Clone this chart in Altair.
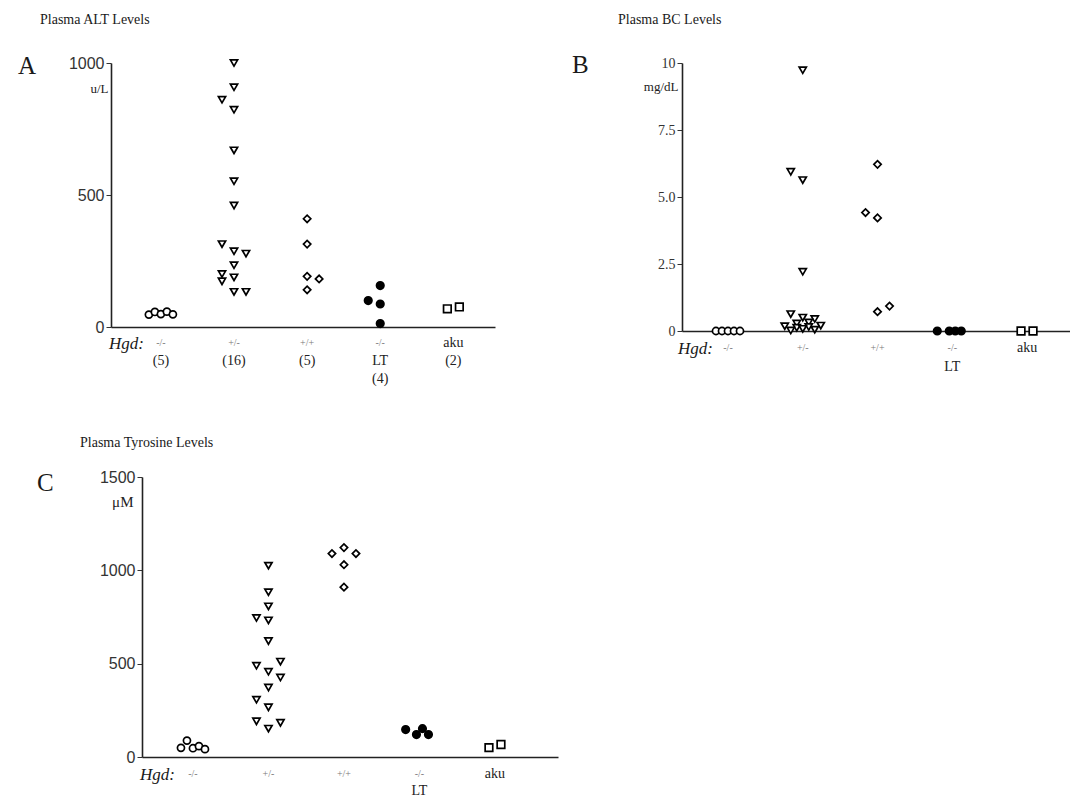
import altair as alt
import pandas as pd

CATS = ["KO", "HET", "WT", "LT", "AKU"]
SHAPES = ["circle", "triangle-down", "diamond", "circle", "square"]
FILLS = ["white", "white", "white", "black", "white"]
SIZES = [50, 58, 42, 55, 44]

SERIF = "Liberation Serif"
SANS = "Liberation Sans"

# ---------------- Panel A: Plasma ALT (u/L) ----------------
alt_ko_vals = [47, 57, 49, 58, 48]
alt_ko_cols = [-2, -1, 0, 1, 2]
alt_het_vals = [1000, 908, 861, 823, 669, 552, 460, 314, 287, 278, 234, 201, 173, 188, 133, 133]
alt_het_cols = [0, 0, -2, 0, 0, 0, 0, -2, 0, 2, 0, -2, -2, 0, 0, 2]
alt_wt_vals = [410, 314, 192, 182, 141]
alt_wt_cols = [0, 0, 0, 2, 0]
alt_lt_vals = [157, 100, 87, 13]
alt_lt_cols = [0, -2, 0, 0]
alt_aku_vals = [69, 76]
alt_aku_cols = [-1, 1]

# ---------------- Panel B: Plasma BC (mg/dL) ----------------
bc_ko_vals = [0, 0, 0, 0, 0]
bc_ko_cols = [-2, -1, 0, 1, 2]
bc_het_vals = [9.73, 5.94, 5.63, 2.21, 0.63, 0.50, 0.45, 0.32, 0.28, 0.20, 0.18, 0.15, 0.12, 0.08, 0.05, 0.02]
bc_het_cols = [0, -2, 0, 0, -2, 0, 2, 1, -1, 3, -3, 1, -1, 0, 2, -2]
bc_wt_vals = [6.22, 4.42, 4.22, 0.72, 0.93]
bc_wt_cols = [0, -2, 0, 0, 2]
bc_lt_vals = [0, 0, 0, 0]
bc_lt_cols = [-2.5, -0.5, 0.5, 1.5]
bc_aku_vals = [0, 0]
bc_aku_cols = [-1, 1]

# ---------------- Panel C: Plasma Tyrosine (uM) ----------------
tyr_ko_vals = [49, 88, 47, 58, 42]
tyr_ko_cols = [-2, -1, 0, 1, 2]
tyr_het_vals = [1025, 883, 807, 745, 732, 621, 511, 489, 457, 426, 372, 307, 266, 191, 183, 152]
tyr_het_cols = [0, 0, 0, -2, 0, 0, 2, -2, 0, 2, 0, -2, 0, -2, 2, 0]
tyr_wt_vals = [1090, 1122, 1090, 1030, 910]
tyr_wt_cols = [-2, 0, 2, 0, 0]
tyr_lt_vals = [147, 120, 152, 120]
tyr_lt_cols = [-2.3, -0.5, 0.5, 1.5]
tyr_aku_vals = [50, 67]
tyr_aku_cols = [-1, 1]

# ---------------- axis category labels ----------------
geno_cats = ["KO", "HET", "WT", "LT"]
geno_texts = ["-/-", "+/-", "+/+", "-/-"]
aku_cats = ["AKU"]
aku_texts = ["aku"]
a_line2_cats = ["KO", "HET", "WT", "LT", "AKU"]
a_line2_texts = ["(5)", "(16)", "(5)", "LT", "(2)"]
a_line3_cats = ["LT"]
a_line3_texts = ["(4)"]
bc_line2_cats = ["LT"]
bc_line2_texts = ["LT"]


def build_df(groups):
    rows = []
    for cat, vals, cols in groups:
        for v, c in zip(vals, cols):
            rows.append({"cat": cat, "val": v, "col": c})
    return pd.DataFrame(rows)


def text_layer(cats, texts, yv, size, color, font=SERIF, style="normal"):
    df = pd.DataFrame({"cat": cats, "t": texts})
    return alt.Chart(df).mark_text(
        font=font, fontSize=size, color=color, baseline="middle", fontStyle=style
    ).encode(x=alt.X("cat:N"), y=alt.value(yv), text="t:N")


def note(text, xv, yv, size, align="left", baseline="alphabetic", style="normal", color="#1a1a1a"):
    return alt.Chart(pd.DataFrame({"t": [text]})).mark_text(
        font=SERIF, fontSize=size, align=align, baseline=baseline, fontStyle=style, color=color
    ).encode(x=alt.value(xv), y=alt.value(yv), text="t:N")


def points(df, ymax, xscale, yaxis):
    return alt.Chart(df).mark_point(
        stroke="black", strokeWidth=1.7, fillOpacity=1, opacity=1
    ).encode(
        x=alt.X("cat:N", scale=xscale,
                axis=alt.Axis(labels=False, ticks=False, title=None, domain=True,
                              domainColor="#222", domainWidth=1.6, grid=False)),
        xOffset=alt.XOffset("col:Q", scale=alt.Scale(domain=[-4, 4], range=[-24, 24])),
        y=alt.Y("val:Q", scale=alt.Scale(domain=[0, ymax], nice=False, zero=True), axis=yaxis),
        shape=alt.Shape("cat:N", scale=alt.Scale(domain=CATS, range=SHAPES), legend=None),
        fill=alt.Fill("cat:N", scale=alt.Scale(domain=CATS, range=FILLS), legend=None),
        size=alt.Size("cat:N", scale=alt.Scale(domain=CATS, range=SIZES), legend=None),
    )


# ---------- Panel A ----------
WA, HA = 384, 264
dfA = build_df([("KO", alt_ko_vals, alt_ko_cols), ("HET", alt_het_vals, alt_het_cols),
                ("WT", alt_wt_vals, alt_wt_cols), ("LT", alt_lt_vals, alt_lt_cols),
                ("AKU", alt_aku_vals, alt_aku_cols)])
yaxisA = alt.Axis(values=[0, 500, 1000], format="d", title="u/L", titleAngle=0, titleX=-3, titleY=25,
                  titleAlign="right", titleBaseline="middle", titleFont=SERIF, titleFontSize=13,
                  titleFontWeight="normal", titleColor="#222",
                  labelFont=SANS, labelFontSize=16, labelColor="#333", tickSize=5,
                  tickColor="#333", domainColor="#222", domainWidth=1.6, grid=False, labelPadding=2)
xsA = alt.Scale(type="point", domain=CATS, padding=0.626, align=0.545)
panelA = alt.layer(
    points(dfA, 1000, xsA, yaxisA),
    text_layer(geno_cats, geno_texts, HA + 16, 10, "#7a7a7a"),
    text_layer(aku_cats, aku_texts, HA + 16, 14, "#222"),
    text_layer(a_line2_cats, a_line2_texts, HA + 34, 14, "#222"),
    text_layer(a_line3_cats, a_line3_texts, HA + 52, 14, "#222"),
    note("Hgd:", 33, HA + 17, 17, align="right", baseline="middle", style="italic"),
    note("Plasma ALT Levels", -71, -50, 14, baseline="top"),
    note("A", -93, 11, 25),
).properties(width=WA, height=HA)

# ---------- Panel B ----------
WB, HB = 388, 268
dfB = build_df([("KO", bc_ko_vals, bc_ko_cols), ("HET", bc_het_vals, bc_het_cols),
                ("WT", bc_wt_vals, bc_wt_cols), ("LT", bc_lt_vals, bc_lt_cols),
                ("AKU", bc_aku_vals, bc_aku_cols)])
yaxisB = alt.Axis(values=[0, 2.5, 5, 7.5, 10], title="mg/dL", titleAngle=0, titleX=-4, titleY=23,
                  titleAlign="right", titleBaseline="middle", titleFont=SERIF, titleFontSize=13,
                  titleFontWeight="normal", titleColor="#222",
                  labelExpr="datum.value == 0 ? '0' : datum.value == 10 ? '10' : format(datum.value, '.1f')",
                  labelFont=SERIF, labelFontSize=14, labelColor="#333", tickSize=5,
                  tickColor="#333", domainColor="#222", domainWidth=1.6, grid=False, labelPadding=2)
xsB = alt.Scale(type="point", domain=CATS, padding=0.595, align=0.517)
panelB = alt.layer(
    points(dfB, 10, xsB, yaxisB),
    text_layer(geno_cats, geno_texts, HB + 17, 10, "#7a7a7a"),
    text_layer(aku_cats, aku_texts, HB + 17, 14, "#222"),
    text_layer(bc_line2_cats, bc_line2_texts, HB + 36, 14, "#222"),
    note("Hgd:", 31, HB + 18, 17, align="right", baseline="middle", style="italic"),
    note("Plasma BC Levels", -64, -50, 14, baseline="top"),
    note("B", -110, 10, 25),
).properties(width=WB, height=HB)

# ---------- Panel C ----------
WC, HC = 447, 280
SHIFT = 31
dfC = build_df([("KO", tyr_ko_vals, tyr_ko_cols), ("HET", tyr_het_vals, tyr_het_cols),
                ("WT", tyr_wt_vals, tyr_wt_cols), ("LT", tyr_lt_vals, tyr_lt_cols),
                ("AKU", tyr_aku_vals, tyr_aku_cols)])
yaxisC = alt.Axis(values=[0, 500, 1000, 1500], format="d", title="μM", titleAngle=0, titleX=-9, titleY=24,
                  titleAlign="right", titleBaseline="middle", titleFont=SERIF, titleFontSize=15,
                  titleFontWeight="normal", titleColor="#222", offset=-SHIFT,
                  labelFont=SANS, labelFontSize=16, labelColor="#333", tickSize=5,
                  tickColor="#333", domainColor="#222", domainWidth=1.6, grid=False, labelPadding=2)
xsC = alt.Scale(type="point", domain=CATS, padding=0.755, align=0.447, range=[SHIFT, WC])
panelC = alt.layer(
    points(dfC, 1500, xsC, yaxisC),
    text_layer(geno_cats, geno_texts, HC + 17, 10, "#7a7a7a"),
    text_layer(aku_cats, aku_texts, HC + 17, 14, "#222"),
    text_layer(bc_line2_cats, bc_line2_texts, HC + 34, 14, "#222"),
    note("Hgd:", SHIFT + 33, HC + 18, 17, align="right", baseline="middle", style="italic"),
    note("Plasma Tyrosine Levels", -31, -41, 14, baseline="top"),
    note("C", -74, 14, 25),
).properties(width=WC, height=HC)

chart = alt.concat(
    panelA, panelB, panelC, columns=2, bounds="flush", align="each",
    spacing=alt.RowColnumber(row=146, column=124),
).properties(
    padding={"left": 10, "top": 5, "right": 0, "bottom": 0},
    background="white",
).configure_view(strokeWidth=0, stroke="transparent")

chart.save("out.html", embed_options={"renderer": "svg", "actions": False})
